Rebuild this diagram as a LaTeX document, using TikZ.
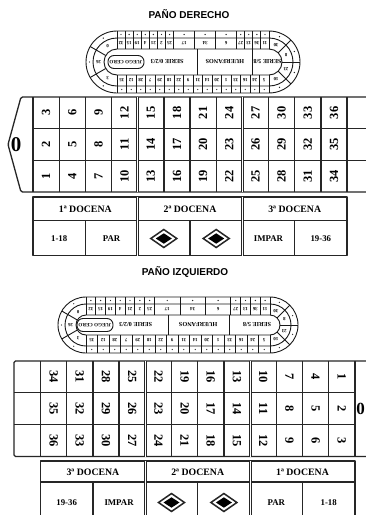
\documentclass[tikz,border=0pt]{standalone}
\usepackage{fontspec}
\setmainfont{Liberation Serif}
\newfontfamily\titlefont{Liberation Sans}
\newcommand{\rtrack}[9]{%
\begin{scope}[shift={(#1,#2)}, y=1pt]
\pgfmathsetmacro{\rtS}{#3}
\pgfmathsetmacro{\rtO}{#4}
\pgfmathsetmacro{\rtM}{#4-7}
\pgfmathsetmacro{\rtI}{#4-18}
\pgfmathsetmacro{\rtN}{(\rtM+\rtI)/2}
\pgfmathsetmacro{\rtD}{(\rtM+\rtO)/2}
\pgfmathsetmacro{\rtU}{\rtS/18.8}
\pgfmathsetmacro{\rtB}{\rtS/16}
\foreach \rr in {\rtO,\rtM,\rtI}
  \draw[rl] (0,\rr) -- (\rtS,\rr) arc[start angle=90,end angle=-90,radius=\rr] -- (0,-\rr) arc[start angle=270,end angle=90,radius=\rr] -- cycle;
\foreach \u in {0,1,2,3,4,5,6,7,9.6,12.2,14.8,15.8,16.8,17.8,18.8}
  \draw[rl] (\u*\rtU,\rtI) -- (\u*\rtU,\rtO);
\foreach \k in {0,...,16}
  \draw[rl] (\k*\rtB,-\rtI) -- (\k*\rtB,-\rtO);
\foreach \a in {150,210}
  \draw[rl] (\a:\rtI) -- (\a:\rtO);
\foreach \a in {45,0,-45}
  \draw[rl] ([shift={(\rtS,0)}]\a:\rtI) -- ([shift={(\rtS,0)}]\a:\rtO);
\foreach \u/\n in {0.5/32,1.5/15,2.5/19,3.5/4,4.5/21,5.5/2,6.5/25,8.3/17,10.9/34,13.5/6,15.3/27,16.3/13,17.3/36,18.3/11}
  {\node[rnum] at (\u*\rtU,\rtN) {\n}; \fill[black!85] (\u*\rtU,\rtD) circle (0.7);}
\foreach \n [count=\k] in {35,12,28,7,29,18,22,9,31,14,20,1,33,16,24,5}
  {\node[rnum] at ({(\k-0.5)*\rtB},-\rtN) {\n}; \fill[black!85] ({(\k-0.5)*\rtB},-\rtD) circle (0.7);}
\foreach \a/\n in {120/0,180/26,240/3}
  {\node[rnum] at (\a:\rtN) {\n}; \fill[black!85] (\a:\rtD) circle (0.7);}
\foreach \a/\n in {67.5/30,22.5/8,-22.5/23,-67.5/10}
  {\node[rnum] at ([shift={(\rtS,0)}]\a:\rtN) {\n}; \fill[black!85] ([shift={(\rtS,0)}]\a:\rtD) circle (0.7);}
\draw[rl, rounded corners=6] (-9,-6.5) rectangle (27,6.5);
\node[rlab, font=\bfseries\fontsize{5}{5}\selectfont] at (9,0) {JUEGO CERO};
\draw[rl] (#5*\rtS,-\rtI) -- (#5*\rtS,\rtI);
\draw[rl] (#6*\rtS,-\rtI) -- (#6*\rtS,\rtI);
\node[rlab] at (#7*\rtS,0) {SERIE 0/2/3};
\node[rlab] at (#8*\rtS,0) {HUERFANOS};
\node[rlab] at (#9*\rtS,0) {SERIE 5/8};
\end{scope}}
\begin{document}
\begin{tikzpicture}[x=1pt,y=-1pt,
  gl/.style={line width=1.3pt, draw=black!85, line join=round},
  dl/.style={double=white, double distance=1pt, line width=1pt, draw=black!85},
  gnum/.style={font=\bfseries\fontsize{12.5}{12.5}\selectfont, inner sep=0},
  znum/.style={font=\bfseries\fontsize{21}{21}\selectfont, inner sep=0},
  lab/.style={font=\bfseries\fontsize{9.8}{10}\selectfont, inner sep=0},
  slab/.style={font=\bfseries\fontsize{8.8}{9}\selectfont, inner sep=0},
  ttl/.style={font=\titlefont\bfseries\fontsize{10}{10}\selectfont, inner sep=0},
  rl/.style={line width=0.9pt, draw=black!90},
  rnum/.style={font=\bfseries\fontsize{4.8}{5}\selectfont, inner sep=0, rotate=180},
  rlab/.style={font=\bfseries\fontsize{6.2}{6.2}\selectfont, inner sep=0, rotate=180},
]
\useasboundingbox (0,0) rectangle (366,515);
\clip (0,0) rectangle (366,515);
\fill[white] (0,0) rectangle (366,515);

% ---------------- titles
\node[ttl] (t1) at (189,14) {PAÑO DERECHO};
\node[ttl] (t2) at (185,272) {PAÑO IZQUIERDO};

% ---------------- racetracks
\rtrack{117}{62}{152}{31}{0.53}{0.89}{0.33}{0.71}{0.99}
\rtrack{86}{325}{184}{28}{0.45}{0.78}{0.27}{0.61}{0.93}

% ---------------- top grid
\draw[gl, rounded corners=1.5] (375,97) -- (21,97) -- (8,144.5) -- (21,192) -- (375,192);
\draw[gl] (33,128.7) -- (375,128.7);
\draw[gl] (33,160.3) -- (375,160.3);
\foreach \k in {0,1,2,3,5,6,7,9,10,11,12,13}
  \draw[gl] ({33+26.17*\k},97) -- ({33+26.17*\k},192);
\foreach \k in {4,8}
  \draw[dl] ({33+26.17*\k},97) -- ({33+26.17*\k},192);
\node[znum] (z1) at (16,144.5) {0};
\foreach \k in {0,...,11}{
  \pgfmathtruncatemacro{\na}{3*\k+3}
  \pgfmathtruncatemacro{\nb}{3*\k+2}
  \pgfmathtruncatemacro{\nc}{3*\k+1}
  \node[gnum, rotate=90] at ({33+26.17*(\k+0.5)},112.8) {\na};
  \node[gnum, rotate=90] at ({33+26.17*(\k+0.5)},144.5) {\nb};
  \node[gnum, rotate=90] at ({33+26.17*(\k+0.5)},176.2) {\nc};
}

% ---------------- top dozens
\draw[gl] (33,197) rectangle (347,255.7);
\draw[gl] (33,220.7) -- (347,220.7);
\draw[dl] (137.7,197) -- (137.7,255.7);
\draw[dl] (242.3,197) -- (242.3,255.7);
\foreach \x in {85.3,190,294.7} \draw[gl] (\x,220.7) -- (\x,255.7);
\node[lab] (d1) at (85.3,209.5) {1ª DOCENA};
\node[lab] (d2) at (190,209.5) {2ª DOCENA};
\node[lab] (d3) at (294.7,209.5) {3ª DOCENA};
\node[slab] (a1) at (59.2,238.5) {1-18};
\node[slab] (a2) at (111.5,238.5) {PAR};
\node[slab] (a3) at (268.5,238.5) {IMPAR};
\node[slab] (a4) at (320.8,238.5) {19-36};
\foreach \cx in {163.8,216.2}{
  \draw[line width=1.5pt, draw=black!85, fill=white] (\cx-13,238.5) -- (\cx,229.5) -- (\cx+13,238.5) -- (\cx,247.5) -- cycle;
  \fill[black] (\cx-8,238.5) -- (\cx,233.3) -- (\cx+8,238.5) -- (\cx,243.7) -- cycle;
}

% ---------------- bottom grid
\draw[gl, rounded corners=1.5] (14,361) -- (368,361) -- (381,408.75) -- (368,456.5) -- (14,456.5) -- cycle;
\draw[gl] (14,392.8) -- (354.9,392.8);
\draw[gl] (14,424.7) -- (354.9,424.7);
\foreach \k in {0,1,2,3,5,6,7,9,10,11,12}
  \draw[gl] ({40.5+26.2*\k},361) -- ({40.5+26.2*\k},456.5);
\foreach \k in {4,8}
  \draw[dl] ({40.5+26.2*\k},361) -- ({40.5+26.2*\k},456.5);
\node[znum, font=\bfseries\fontsize{17}{17}\selectfont] (z2) at (360.6,408.75) {0};
\foreach \k in {0,...,11}{
  \pgfmathtruncatemacro{\na}{34-3*\k}
  \pgfmathtruncatemacro{\nb}{35-3*\k}
  \pgfmathtruncatemacro{\nc}{36-3*\k}
  \node[gnum, rotate=-90] at ({40.5+26.2*(\k+0.5)},376.9) {\na};
  \node[gnum, rotate=-90] at ({40.5+26.2*(\k+0.5)},408.75) {\nb};
  \node[gnum, rotate=-90] at ({40.5+26.2*(\k+0.5)},440.6) {\nc};
}

% ---------------- bottom dozens
\draw[gl] (40.5,461) rectangle (354.9,523);
\draw[gl] (40.5,482) -- (354.9,482);
\draw[dl] (145.3,461) -- (145.3,523);
\draw[dl] (250.1,461) -- (250.1,523);
\foreach \x in {92.9,197.7,302.5} \draw[gl] (\x,482) -- (\x,523);
\node[lab] (e1) at (92.9,471.8) {3ª DOCENA};
\node[lab] (e2) at (197.7,471.8) {2ª DOCENA};
\node[lab] (e3) at (302.5,471.8) {1ª DOCENA};
\node[slab] (b1) at (66.7,502.5) {19-36};
\node[slab] (b2) at (119.1,502.5) {IMPAR};
\node[slab] (b3) at (276.3,502.5) {PAR};
\node[slab] (b4) at (328.7,502.5) {1-18};
\foreach \cx in {171.5,223.9}{
  \draw[line width=1.5pt, draw=black!85, fill=white] (\cx-13,502.5) -- (\cx,493.5) -- (\cx+13,502.5) -- (\cx,511.5) -- cycle;
  \fill[black] (\cx-8,502.5) -- (\cx,497.3) -- (\cx+8,502.5) -- (\cx,507.7) -- cycle;
}
\end{tikzpicture}
\end{document}
